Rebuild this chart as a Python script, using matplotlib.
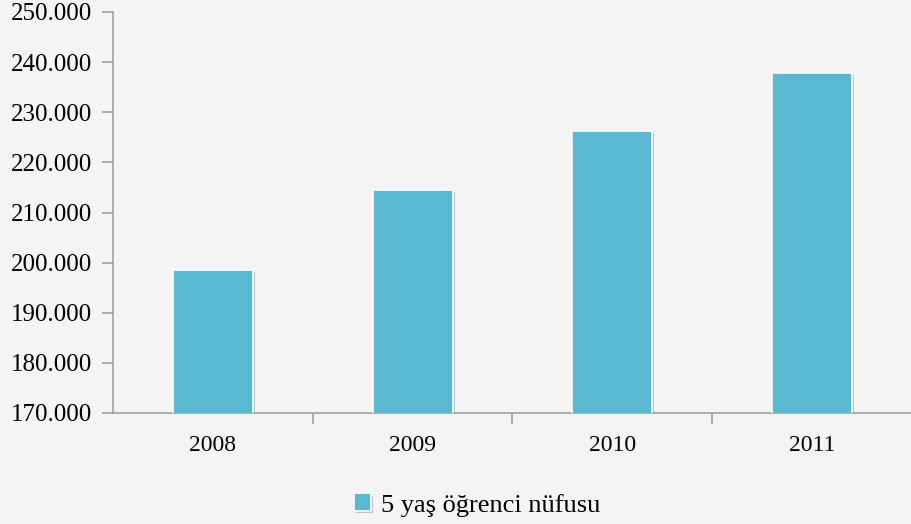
import numpy as np
import matplotlib.pyplot as plt
import matplotlib.patheffects as pe
from matplotlib.ticker import FuncFormatter

# Veriler
yillar = ['2008', '2009', '2010', '2011']
nufus = [198600, 214500, 226300, 237900]
seri_adi = '5 yaş öğrenci nüfusu'

plt.rcParams['font.family'] = ['Liberation Serif', 'DejaVu Serif']

fig = plt.figure(figsize=(9.12, 5.24), dpi=100, facecolor='#f4f4f4')
ax = fig.add_axes([113/912, 1 - 413/524, (912 - 113)/912, (413 - 12)/524])
ax.set_facecolor('#f4f4f4')

x = np.arange(len(yillar))
bars = ax.bar(x, nufus, width=0.4, bottom=0, color='#5bb8d1', edgecolor='white',
              linewidth=1.2, label=seri_adi, zorder=3)
for b in bars:
    b.set_path_effects([pe.SimplePatchShadow(offset=(1.5, -1.5), alpha=0.25), pe.Normal()])

ax.set_ylim(170000, 250000)
ax.set_yticks(np.arange(170000, 250001, 10000))
ax.yaxis.set_major_formatter(FuncFormatter(lambda v, p: f'{int(v):,}'.replace(',', '.')))
ax.set_xlim(-0.5, 3.475)
ax.set_xticks(x)
ax.set_xticklabels(yillar)
ax.set_xticks(np.arange(0.5, 4, 1), minor=True)

for s in ['top', 'right']:
    ax.spines[s].set_visible(False)
for s in ['left', 'bottom']:
    ax.spines[s].set_color('#a0a0a0')
    ax.spines[s].set_linewidth(1.2)

ax.tick_params(axis='y', length=8, width=1.2, color='#a0a0a0', labelsize=18, pad=7)
ax.tick_params(axis='x', which='major', length=0, labelsize=17, pad=16)
ax.tick_params(axis='x', which='minor', length=8, width=1.2, color='#a0a0a0')

fig.legend(*ax.get_legend_handles_labels(), loc='center',
           bbox_to_anchor=(477/912, 1 - 505/524), frameon=False,
           fontsize=19, handlelength=0.65, handleheight=0.65, handletextpad=0.35)

fig.savefig('out.png', dpi=100, facecolor=fig.get_facecolor())
